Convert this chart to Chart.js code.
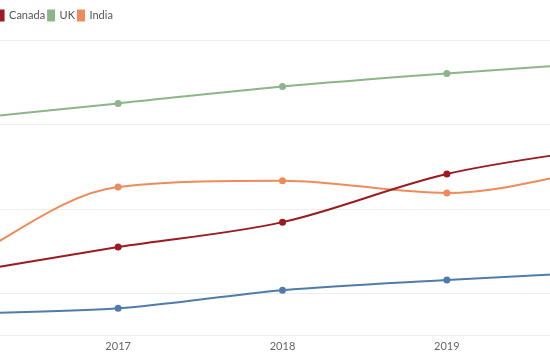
<!DOCTYPE html>
<html>
<head>
<meta charset="utf-8">
<script src="https://cdn.jsdelivr.net/npm/chart.js@4/dist/chart.umd.min.js"></script>
<style>
  html, body { margin: 0; padding: 0; background: #fff; overflow: hidden; }
  #wrap { position: absolute; left: -63px; top: 0; width: 691px; height: 360px; }
</style>
</head>
<body>
<div id="wrap"><canvas id="lineChart" width="691" height="360"></canvas></div>
<script>
const YEARS = ['2016', '2017', '2018', '2019', '2020'];

const US = [15.2, 16.5, 20.8, 23.2, 25.2];
const CANADA = [24.5, 31.0, 36.9, 48.3, 54.8];
const UK = [61.0, 65.0, 69.0, 72.1, 74.8];
const INDIA = [26.4, 45.2, 46.7, 43.8, 50.2];

const Y_MIN = 10;
const Y_MAX = 80;
const Y_STEP = 20;

const COLORS = {
  US: '#4e7dab',
  Canada: '#9a1b20',
  UK: '#8db589',
  India: '#ef8b5b'
};

function series(label, data) {
  return {
    label,
    data,
    borderColor: COLORS[label],
    backgroundColor: COLORS[label],
    pointBackgroundColor: COLORS[label],
    pointBorderWidth: 0,
    pointRadius: 3.5,
    borderWidth: 2,
    cubicInterpolationMode: 'monotone'
  };
}

// a bit more room under the legend, and nudge it right
const legendGap = {
  id: 'legendGap',
  beforeInit(chart) {
    const fit = chart.legend.fit;
    chart.legend.fit = function () {
      fit.bind(chart.legend)();
      this.height += 9;
    };
  },
  afterLayout(chart) {
    chart.legend.left += 29;
    chart.legend.right += 29;
  }
};

const ctx = document.getElementById('lineChart');

new Chart(ctx, {
  type: 'line',
  data: {
    labels: YEARS,
    datasets: [
      series('US', US),
      series('Canada', CANADA),
      series('UK', UK),
      series('India', INDIA)
    ]
  },
  options: {
    responsive: false,
    animation: false,
    layout: { padding: { top: 7, bottom: 3, left: 0, right: 0 } },
    scales: {
      x: {
        offset: false,
        grid: { display: false, drawTicks: false },
        border: { display: false },
        ticks: {
          color: '#666',
          font: { family: 'Lato', size: 11 },
          padding: 4,
          maxRotation: 0
        }
      },
      y: {
        min: Y_MIN,
        max: Y_MAX,
        grid: { color: '#eeeeee', drawTicks: false },
        border: { display: false },
        ticks: { display: false, stepSize: Y_STEP }
      }
    },
    plugins: {
      legend: {
        position: 'top',
        align: 'start',
        labels: {
          boxWidth: 6,
          boxHeight: 10,
          padding: 3,
          color: '#555',
          font: { family: 'Lato', size: 11 }
        }
      },
      tooltip: { enabled: false }
    }
  },
  plugins: [legendGap]
});
</script>
</body>
</html>
